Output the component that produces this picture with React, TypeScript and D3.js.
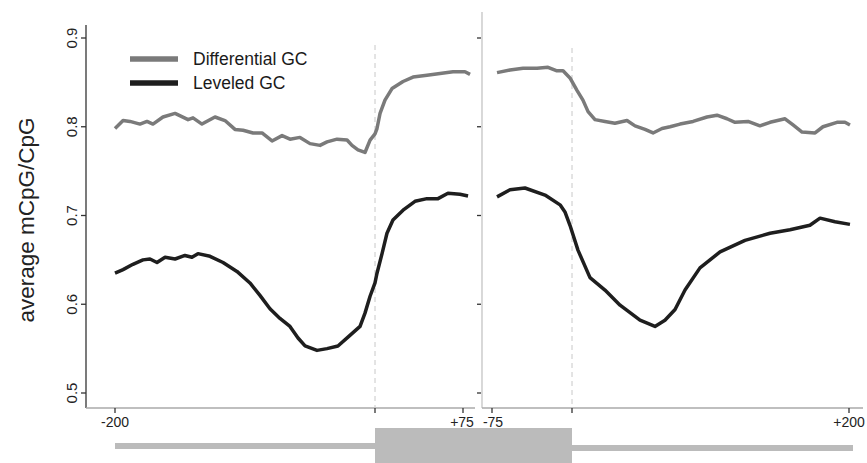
import * as d3 from "d3";
import React from "react";

// positions in bp relative to the boundary, values = average mCpG/CpG
const leftPos = [-200, -193.8, -188.5, -180.8, -175.4, -170.8, -163.1, -153.8, -143.8, -140, -133.1, -123.1, -115.4, -107.7, -101.5, -93.8, -86.9, -79.2, -71.5, -65.4, -57.7, -50, -42.3, -36.9, -29.2, -21.5, -17.7, -13.1, -7.7, -3.8, 0, 1.7, 4.3, 8.5, 14.5, 23.9, 32.4, 44.3, 55.4, 66.5, 76.7, 81];
const leftDiff = [0.798, 0.807, 0.806, 0.803, 0.806, 0.803, 0.811, 0.815, 0.808, 0.81, 0.803, 0.811, 0.807, 0.797, 0.796, 0.793, 0.793, 0.784, 0.79, 0.786, 0.788, 0.781, 0.779, 0.783, 0.786, 0.785, 0.779, 0.774, 0.771, 0.785, 0.792, 0.798, 0.815, 0.83, 0.843, 0.851, 0.856, 0.858, 0.86, 0.862, 0.862, 0.859];

const leftPos2 = [-200, -193.8, -186.2, -178.5, -173.1, -167.7, -161.5, -153.8, -146.2, -140.8, -136.2, -126.9, -116.9, -106.2, -96.2, -88.5, -80.8, -73.1, -65.4, -59.2, -53.8, -44.6, -36.9, -28.5, -20.8, -11.5, -7.7, -3.8, 0, 1.7, 6, 10.2, 15.3, 23.9, 34.1, 44.3, 53.7, 62.2, 72.4, 79.3];
const leftLev = [0.635, 0.639, 0.645, 0.65, 0.651, 0.647, 0.653, 0.651, 0.655, 0.653, 0.657, 0.654, 0.647, 0.637, 0.624, 0.61, 0.595, 0.584, 0.575, 0.562, 0.553, 0.548, 0.55, 0.553, 0.563, 0.575, 0.59, 0.609, 0.624, 0.635, 0.657, 0.68, 0.695, 0.706, 0.716, 0.719, 0.719, 0.725, 0.724, 0.722];

const rightPos = [-70.3, -58.1, -45.9, -32.8, -22.5, -14.1, -8.4, -1.9, 3.6, 7.9, 11.6, 16.6, 23.8, 31, 39.7, 45.5, 52.7, 58.5, 65, 70.8, 78, 87.4, 97.5, 104.7, 111.9, 117.7, 127.1, 135.7, 143, 153.8, 159.6, 166.1, 175.5, 181.2, 191.3, 197.1, 200.7];
const rightDiff = [0.861, 0.864, 0.866, 0.866, 0.867, 0.863, 0.863, 0.855, 0.841, 0.83, 0.817, 0.808, 0.806, 0.804, 0.807, 0.801, 0.797, 0.793, 0.798, 0.8, 0.803, 0.806, 0.811, 0.813, 0.809, 0.805, 0.806, 0.801, 0.805, 0.809, 0.802, 0.794, 0.793, 0.8, 0.805, 0.805, 0.802];

const rightPos2 = [-70.3, -58.1, -44.1, -25.3, -11.2, -6.6, -1.9, 4.3, 13, 23.8, 34.7, 49.1, 59.9, 67.1, 74.4, 81.6, 92.4, 106.9, 124.9, 143, 157.4, 171.8, 179.1, 189.9, 200.7];
const rightLev = [0.721, 0.729, 0.731, 0.723, 0.712, 0.704, 0.689, 0.661, 0.63, 0.616, 0.599, 0.582, 0.575, 0.582, 0.594, 0.616, 0.641, 0.659, 0.672, 0.68, 0.684, 0.689, 0.697, 0.693, 0.69];

const yTicks = [0.5, 0.6, 0.7, 0.8, 0.9];
const leftTicks = [-200, 0, 75];
const leftTickLabels = ["-200", "", "+75"];
const rightTicks = [-75, 0, 200];
const rightTickLabels = ["-75", "", "+200"];
const seriesNames = ["Differential GC", "Leveled GC"];
const seriesColors = ["#7a7a7a", "#1e1e1e"];

const font = "'Liberation Sans', Arial, sans-serif";

export default function App() {
  const y = d3.scaleLinear().domain([0.5, 0.9]).range([393, 38]);
  const xl = d3.scaleLinear().domain([-200, 0, 75]).range([115, 375, 463]);
  const xr = d3.scaleLinear().domain([-75, 0, 200]).range([492, 572, 849]);
  const baseY = 408;

  const mk = (xs: d3.ScaleLinear<number, number>, pos: number[], vals: number[]) =>
    d3.line<number>().x((_, i) => xs(pos[i])).y((v) => y(v))(vals) || "";

  const lines = [
    { d: mk(xl, leftPos, leftDiff), c: seriesColors[0] },
    { d: mk(xl, leftPos2, leftLev), c: seriesColors[1] },
    { d: mk(xr, rightPos, rightDiff), c: seriesColors[0] },
    { d: mk(xr, rightPos2, rightLev), c: seriesColors[1] },
  ];

  return (
    <svg width={867} height={463} style={{ position: "absolute", left: 0, top: 0, background: "#fff" }} fontFamily={font}>
      {/* y label */}
      <text transform="translate(34,220) rotate(-90)" textAnchor="middle" fontSize={22.5} fill="#222">
        average mCpG/CpG
      </text>

      {/* left y axis */}
      <line x1={86} x2={86} y1={25} y2={baseY} stroke="#333" strokeWidth={1.3} />
      {yTicks.map((t) => (
        <g key={"yl" + t}>
          <line x1={81} x2={86} y1={y(t)} y2={y(t)} stroke="#333" strokeWidth={1.3} />
          <text transform={`translate(77,${y(t)}) rotate(-90)`} textAnchor="middle" fontSize={15} fill="#222">
            {t.toFixed(1)}
          </text>
        </g>
      ))}

      {/* right y axis */}
      <line x1={482} x2={482} y1={12} y2={baseY} stroke="#c4c4c4" strokeWidth={1.3} />
      {yTicks.map((t) => (
        <line key={"yr" + t} x1={477} x2={481} y1={y(t)} y2={y(t)} stroke="#333" strokeWidth={1.3} />
      ))}

      {/* x axes */}
      <line x1={86} x2={475} y1={baseY} y2={baseY} stroke="#aaa" strokeWidth={1.3} />
      <line x1={482} x2={863} y1={baseY} y2={baseY} stroke="#aaa" strokeWidth={1.3} />
      {leftTicks.map((t, i) => (
        <g key={"xl" + t}>
          <line x1={xl(t)} x2={xl(t)} y1={baseY} y2={baseY + 5} stroke="#333" strokeWidth={1.3} />
          <text x={xl(t) - (i === 2 ? 1 : 0)} y={427} textAnchor="middle" fontSize={14} fill="#222">
            {leftTickLabels[i]}
          </text>
        </g>
      ))}
      {rightTicks.map((t, i) => (
        <g key={"xr" + t}>
          <line x1={xr(t)} x2={xr(t)} y1={baseY} y2={baseY + 5} stroke="#333" strokeWidth={1.3} />
          <text x={xr(t) + (i === 0 ? 1 : 0)} y={427} textAnchor="middle" fontSize={14} fill="#222">
            {rightTickLabels[i]}
          </text>
        </g>
      ))}

      {/* boundary dashed lines */}
      <line x1={xl(0)} x2={xl(0)} y1={45} y2={baseY} stroke="#c8c8c8" strokeDasharray="5,4" />
      <line x1={xr(0)} x2={xr(0)} y1={48} y2={baseY} stroke="#c8c8c8" strokeDasharray="5,4" />

      {/* gene diagram */}
      <rect x={xl(-200)} y={443} width={xl(0) - xl(-200)} height={6} fill="#bbb" />
      <rect x={xl(0)} y={428} width={xr(0) - xl(0)} height={40} fill="#bbb" />
      <rect x={xr(0)} y={445} width={xr(200) + 4 - xr(0)} height={6} fill="#bbb" />

      {/* data lines */}
      {lines.map((l, i) => (
        <path key={i} d={l.d} fill="none" stroke={l.c} strokeWidth={3.5} strokeLinejoin="round" />
      ))}

      {/* legend */}
      {seriesNames.map((n, i) => (
        <g key={n}>
          <line x1={130} x2={178} y1={59 + i * 24} y2={59 + i * 24} stroke={seriesColors[i]} strokeWidth={5.5} />
          <text x={193} y={65 + i * 24} fontSize={17.5} fill="#1a1a1a">
            {n}
          </text>
        </g>
      ))}
    </svg>
  );
}
